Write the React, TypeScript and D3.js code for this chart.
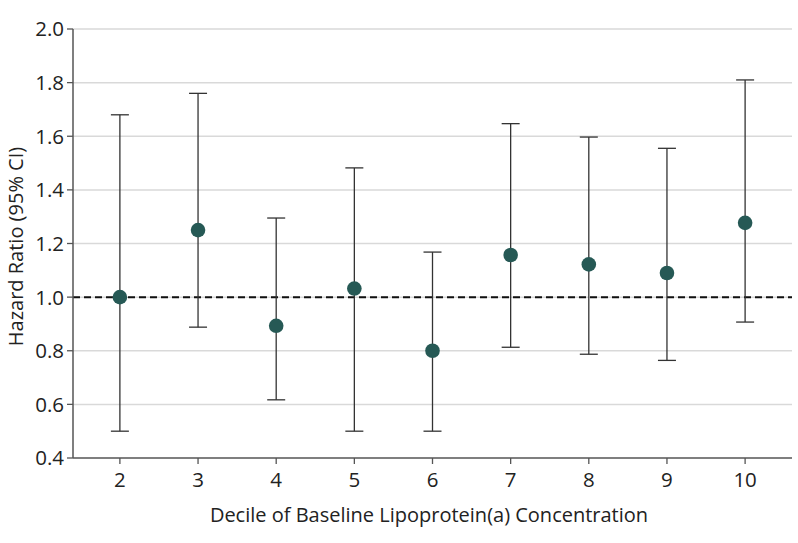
import React from "react";
import * as d3 from "d3";

const deciles = [2, 3, 4, 5, 6, 7, 8, 9, 10];
const hazardRatio = [1.0, 1.25, 0.893, 1.032, 0.8, 1.157, 1.122, 1.09, 1.277];
const ciLower = [0.5, 0.888, 0.617, 0.5, 0.5, 0.813, 0.787, 0.764, 0.907];
const ciUpper = [1.68, 1.76, 1.295, 1.482, 1.168, 1.647, 1.597, 1.555, 1.81];
const yTicks = [0.4, 0.6, 0.8, 1.0, 1.2, 1.4, 1.6, 1.8, 2.0];

const W = 798;
const H = 543;
const M = { left: 73, right: 6, top: 29, bottom: 85 };
const FONT = "'Open Sans', Lato, sans-serif";

export default function App() {
  const x = d3.scaleLinear().domain([1.4, 10.6]).range([M.left, W - M.right]);
  const y = d3.scaleLinear().domain([0.4, 2.0]).range([H - M.bottom, M.top]);
  const cap = 9;
  const x0 = M.left;
  const x1 = W - M.right;
  const yb = y(0.4);

  return (
    <svg
      width={W}
      height={H}
      style={{ position: "absolute", left: 0, top: 0, background: "#fff" }}
    >
      {yTicks.slice(1).map((t) => (
        <line key={"g" + t} x1={x0} x2={x1} y1={y(t)} y2={y(t)} stroke="#d9d9d9" strokeWidth={1.5} />
      ))}
      <line x1={x0} x2={x1} y1={y(1)} y2={y(1)} stroke="#111" strokeWidth={2} strokeDasharray="7,4" />
      <line x1={x0} x2={x0} y1={y(2.0)} y2={yb} stroke="#555" strokeWidth={1.5} />
      <line x1={x0} x2={x1} y1={yb} y2={yb} stroke="#555" strokeWidth={1.5} />
      {yTicks.map((t) => (
        <g key={"yt" + t}>
          <line x1={x0 - 6} x2={x0} y1={y(t)} y2={y(t)} stroke="#555" strokeWidth={1.3} />
          <text x={x0 - 9} y={y(t)} dy="0.36em" textAnchor="end" fontFamily={FONT} fontSize={20.5} fill="#222">
            {d3.format(".1f")(t)}
          </text>
        </g>
      ))}
      {deciles.map((d) => (
        <g key={"xt" + d}>
          <line x1={x(d)} x2={x(d)} y1={yb} y2={yb + 6} stroke="#555" strokeWidth={1.3} />
          <text x={x(d)} y={yb + 29} textAnchor="middle" fontFamily={FONT} fontSize={20.5} fill="#222">
            {d}
          </text>
        </g>
      ))}
      {deciles.map((d, i) => (
        <g key={"e" + d} stroke="#333" strokeWidth={1.3}>
          <line x1={x(d)} x2={x(d)} y1={y(ciLower[i])} y2={y(ciUpper[i])} />
          <line x1={x(d) - cap} x2={x(d) + cap} y1={y(ciLower[i])} y2={y(ciLower[i])} />
          <line x1={x(d) - cap} x2={x(d) + cap} y1={y(ciUpper[i])} y2={y(ciUpper[i])} />
        </g>
      ))}
      {deciles.map((d, i) => (
        <circle key={"p" + d} cx={x(d)} cy={y(hazardRatio[i])} r={7.3} fill="#265955" />
      ))}
      <text x={429} y={522} textAnchor="middle" fontFamily={FONT} fontSize={20} fill="#222">
        Decile of Baseline Lipoprotein(a) Concentration
      </text>
      <text
        transform={`translate(23, 246.5) rotate(-90)`}
        textAnchor="middle"
        fontFamily={FONT}
        fontSize={20}
        fill="#222"
      >
        Hazard Ratio (95% CI)
      </text>
    </svg>
  );
}
